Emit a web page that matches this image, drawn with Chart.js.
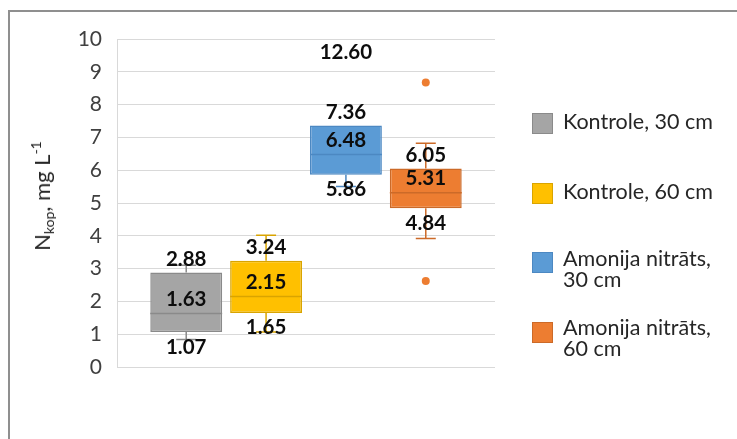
<!DOCTYPE html>
<html>
<head>
<meta charset="utf-8">
<script src="https://cdn.jsdelivr.net/npm/chart.js@4.4.1/dist/chart.umd.min.js"></script>
<style>
  html, body { margin: 0; padding: 0; background: #fff; overflow: hidden; }
  #wrap { position: relative; width: 737px; height: 439px; overflow: hidden; font-family: Lato, "Open Sans", sans-serif; }
  #frame { position: absolute; left: 8px; top: 10px; width: 800px; height: 500px; border: 2px solid #8f8f8f; box-sizing: border-box; }
  canvas { position: absolute; left: 0; top: 0; }
  #ytitle { position: absolute; left: 42px; top: 196px; transform: translate(-50%, -50%) rotate(-90deg); white-space: nowrap; font-size: 22px; color: #262626; }
  #ytitle sub { font-size: 14px; vertical-align: -4px; }
  #ytitle sup { font-size: 14px; vertical-align: 9px; }
  .lg { position: absolute; left: 532px; font-size: 21.5px; color: #262626; line-height: 21px; }
  .lg .sw { position: absolute; left: 0; width: 21px; height: 21px; box-sizing: border-box; border: 1px solid; }
  .lg .tx { position: absolute; left: 31px; white-space: nowrap; }
</style>
</head>
<body>
<div id="wrap">
  <div id="frame"></div>
  <canvas id="c" width="737" height="439"></canvas>
  <div id="ytitle">N<sub>kop</sub>, mg L<sup>-1</sup></div>
  <div id="legend"></div>
</div>
<script>
// ---- data ----
const categories = [''];
const seriesNames = ['Kontrole, 30 cm', 'Kontrole, 60 cm', 'Amonija nitrāts, 30 cm', 'Amonija nitrāts, 60 cm'];
const legendLines = [['Kontrole, 30 cm'], ['Kontrole, 60 cm'], ['Amonija nitrāts,', '30 cm'], ['Amonija nitrāts,', '60 cm']];
const whiskerLow  = [0.84, 1.07, 5.50, 3.92];
const q1          = [1.07, 1.65, 5.86, 4.84];
const median      = [1.63, 2.15, 6.48, 5.31];
const q3          = [2.88, 3.24, 7.36, 6.05];
const whiskerHigh = [3.10, 4.02, 7.36, 6.82];
const outliers    = [[], [], [12.60], [8.67, 2.62]];
const labelledOutliers = [[], [], [12.60], []];
const yTicks = [0, 1, 2, 3, 4, 5, 6, 7, 8, 9, 10];

// ---- styles ----
const fills   = ['#a5a5a5', '#ffc000', '#5b9bd5', '#ed7d31'];
const borders = ['#8a8a8a', '#d9a400', '#4c88c2', '#cc6a28'];
const legendTops = [[113, 111], [183, 181], [252, 248], [322, 317]];

// legend
const lg = document.getElementById('legend');
seriesNames.forEach((n, i) => {
  const item = document.createElement('div');
  item.className = 'lg';
  item.style.top = '0px';
  const sw = document.createElement('div');
  sw.className = 'sw';
  sw.style.top = legendTops[i][0] + 'px';
  sw.style.background = fills[i];
  sw.style.borderColor = borders[i];
  const tx = document.createElement('div');
  tx.className = 'tx';
  tx.style.top = legendTops[i][1] + 'px';
  tx.innerHTML = legendLines[i].join('<br>');
  item.appendChild(sw); item.appendChild(tx);
  lg.appendChild(item);
});

const boxExtras = {
  id: 'boxExtras',
  afterDatasetsDraw(chart) {
    const { ctx, chartArea, scales: { y } } = chart;
    chart.data.datasets.forEach((ds, i) => {
      const el = chart.getDatasetMeta(i).data[0];
      const x = el.x, w = el.width;
      const cap = 20;
      ctx.save();
      ctx.strokeStyle = borders[i];
      ctx.lineWidth = 1.5;
      const yq1 = y.getPixelForValue(q1[i]), yq3 = y.getPixelForValue(q3[i]);
      const yl = y.getPixelForValue(whiskerLow[i]), yh = y.getPixelForValue(whiskerHigh[i]);
      ctx.beginPath();
      if (whiskerHigh[i] > q3[i]) {
        ctx.moveTo(x, yq3); ctx.lineTo(x, yh);
        ctx.moveTo(x - cap / 2, yh); ctx.lineTo(x + cap / 2, yh);
      }
      if (whiskerLow[i] < q1[i]) {
        ctx.moveTo(x, yq1); ctx.lineTo(x, yl);
        ctx.moveTo(x - cap / 2, yl); ctx.lineTo(x + cap / 2, yl);
      }
      const ym = y.getPixelForValue(median[i]);
      ctx.moveTo(x - w / 2, ym); ctx.lineTo(x + w / 2, ym);
      ctx.stroke();
      ctx.fillStyle = fills[i];
      outliers[i].forEach(v => {
        if (v > y.max || v < y.min) return;
        ctx.beginPath();
        ctx.arc(x, y.getPixelForValue(v), 4, 0, Math.PI * 2);
        ctx.fill();
      });
      ctx.fillStyle = '#0d0d0d';
      ctx.font = 'bold 20.5px Lato, "Open Sans", sans-serif';
      ctx.textAlign = 'center';
      ctx.textBaseline = 'middle';
      ctx.fillText(q3[i].toFixed(2), x, yq3 - 13);
      ctx.fillText(median[i].toFixed(2), x, ym - 14);
      ctx.fillText(q1[i].toFixed(2), x, yq1 + 15);
      labelledOutliers[i].forEach(v => {
        const py = Math.max(y.getPixelForValue(v), chartArea.top);
        ctx.fillText(v.toFixed(2), x, py + 13);
      });
      ctx.restore();
    });
  }
};

new Chart(document.getElementById('c'), {
  type: 'bar',
  data: {
    labels: categories,
    datasets: seriesNames.map((n, i) => ({
      label: n,
      data: [[q1[i], q3[i]]],
      backgroundColor: fills[i],
      borderColor: borders[i],
      borderWidth: 1.5,
      borderSkipped: false,
      categoryPercentage: 0.845,
      barPercentage: 0.9
    }))
  },
  options: {
    responsive: false,
    animation: false,
    devicePixelRatio: 1,
    layout: { padding: { left: 0, top: 39, right: 242, bottom: 72 } },
    plugins: { legend: { display: false }, tooltip: { enabled: false } },
    scales: {
      x: { display: false },
      y: {
        min: 0, max: 10,
        afterBuildTicks(s) { s.ticks = yTicks.map(v => ({ value: v })); },
        ticks: { padding: 15, color: '#404040', font: { family: 'Lato, "Open Sans", sans-serif', size: 21 } },
        grid: { color: '#d9d9d9', lineWidth: 1, drawTicks: false },
        border: { display: true, color: '#d9d9d9', width: 1 },
        afterFit(s) { s.width = 117; }
      }
    }
  },
  plugins: [boxExtras]
});
</script>
</body>
</html>
